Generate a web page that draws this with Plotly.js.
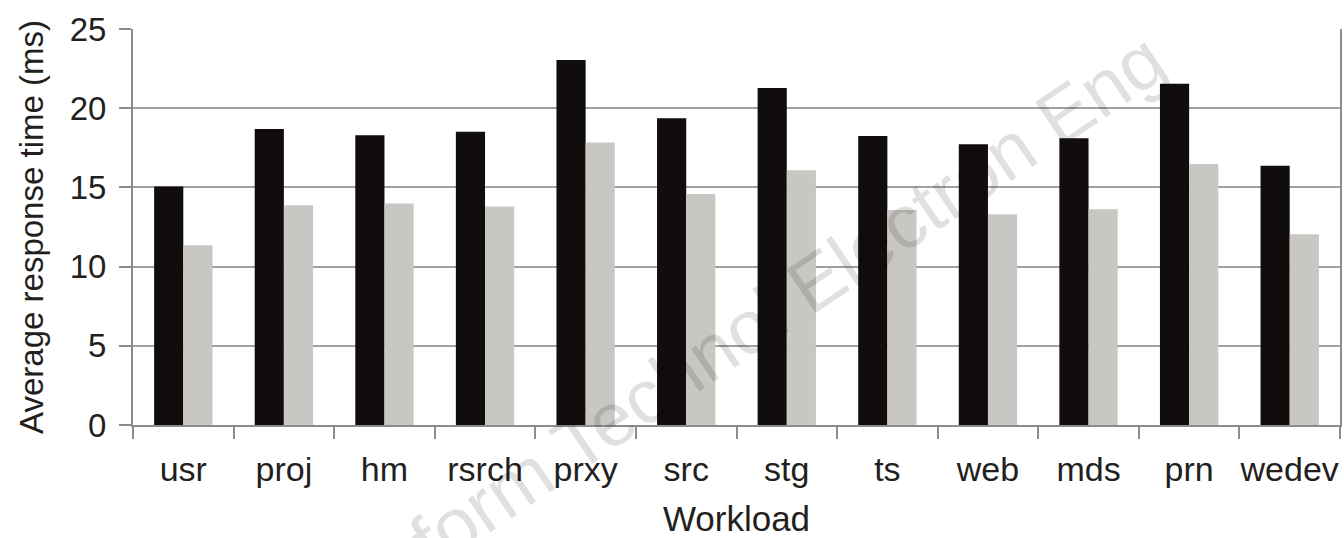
<!DOCTYPE html>
<html>
<head>
<meta charset="utf-8">
<script src="https://cdn.plot.ly/plotly-3.0.1.min.js"></script>
<style>html,body{margin:0;padding:0;background:#fff;}#chart{width:1344px;height:538px;}</style>
</head>
<body>
<div id="chart"></div>
<script>
const workloads = ['usr','proj','hm','rsrch','prxy','src','stg','ts','web','mds','prn','wedev'];
const seriesA = [15.05, 18.68, 18.3, 18.51, 23.04, 19.37, 21.27, 18.24, 17.73, 18.11, 21.54, 16.36];
const seriesB = [11.35, 13.88, 13.98, 13.79, 17.83, 14.59, 16.09, 13.58, 13.31, 13.62, 16.47, 12.05];
const yTickVals = [0, 5, 10, 15, 20, 25];

const fontFam = 'Liberation Sans, Arial, Helvetica, sans-serif';
const textCol = '#231f20';
const axisCol = '#8c8c8c';

const traces = [
  {type:'bar', x:workloads, y:seriesA, marker:{color:'#110d0c', line:{width:0}}, showlegend:false, hoverinfo:'y'},
  {type:'bar', x:workloads, y:seriesB, marker:{color:'#c8c7c3', line:{width:0}}, showlegend:false, hoverinfo:'y'}
];

const layout = {
  width:1344, height:538,
  margin:{l:133, r:4, t:29, b:113},
  paper_bgcolor:'#ffffff', plot_bgcolor:'#ffffff',
  barmode:'group', bargap:0.42, bargroupgap:0,
  font:{family:fontFam, color:textCol},
  xaxis:{
    type:'category', tickson:'boundaries', tickangle:0,
    ticks:'outside', ticklen:12, tickwidth:2, tickcolor:axisCol,
    showline:true, linecolor:axisCol, linewidth:2,
    showgrid:false,
    tickfont:{size:34, family:fontFam, color:textCol},
    ticklabelstandoff:13,
    title:{text:'Workload', font:{size:35, family:fontFam, color:textCol}, standoff:21}
  },
  yaxis:{
    range:[0,25], tickvals:yTickVals, ticktext:yTickVals.map(String),
    showgrid:true, gridcolor:'#a0a0a0', gridwidth:2,
    showline:true, linecolor:axisCol, linewidth:2, mirror:true,
    ticks:'outside', ticklen:12, tickwidth:2, tickcolor:axisCol,
    zeroline:false,
    tickfont:{size:33, family:fontFam, color:textCol},
    ticklabelstandoff:6,
    title:{text:'Average response time (ms)', font:{size:33, family:fontFam, color:textCol}, standoff:16}
  },
  annotations:[{
    text:'Front Inform Technol Electron Eng', xref:'paper', yref:'paper',
    x:0.452, y:0.131, xanchor:'center', yanchor:'middle', showarrow:false, textangle:-34,
    font:{size:76, family:fontFam, color:'rgba(0,0,0,0.12)'}
  }]
};

Plotly.newPlot('chart', traces, layout, {displayModeBar:false, staticPlot:true});
</script>
</body>
</html>
